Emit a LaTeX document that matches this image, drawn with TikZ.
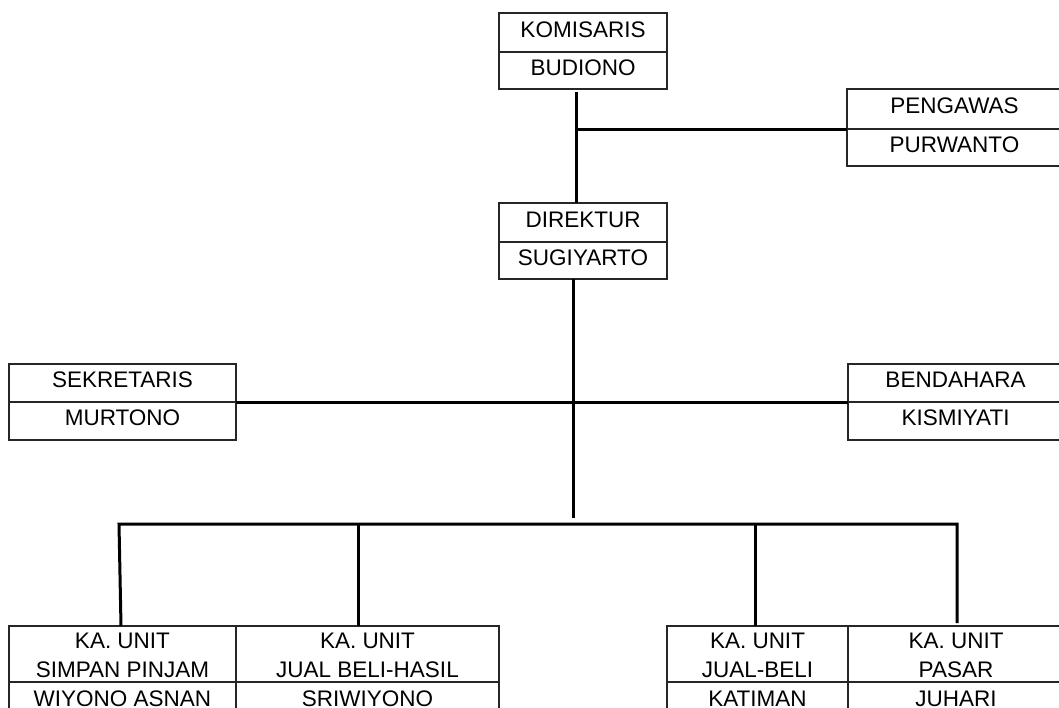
\documentclass[tikz,border=0pt]{standalone}
\usepackage{fontspec}
\setmainfont{Liberation Sans}
\begin{document}
\begin{tikzpicture}[x=1pt,y=-1pt,
  cell/.style={draw=black!85, line width=1.3pt, inner sep=0pt, outer sep=0pt},
  lbl/.style={anchor=base, inner sep=0pt, outer sep=0pt, font=\fontsize{22.5}{26}\selectfont},
  conn/.style={line width=3pt, black, line join=miter}]
\clip (0,0) rectangle (1059,707);
\fill[white] (0,0) rectangle (1059,707);
% KOMISARIS
\node[cell, minimum width=168, minimum height=39] (komT) at (583,32.5) {};
\node[cell, minimum width=168, minimum height=37] (komB) at (583,70.5) {};
\node[lbl] (komTt) at (583,37.5) {KOMISARIS};
\node[lbl] (komBt) at (583,75.5) {BUDIONO};
% PENGAWAS
\node[cell, minimum width=215, minimum height=40] (penT) at (954.5,109) {};
\node[cell, minimum width=215, minimum height=37] (penB) at (954.5,147.5) {};
\node[lbl] (penTt) at (954.5,113.5) {PENGAWAS};
\node[lbl] (penBt) at (954.5,152) {PURWANTO};
% DIREKTUR
\node[cell, minimum width=168, minimum height=39] (dirT) at (583,222.5) {};
\node[cell, minimum width=168, minimum height=37] (dirB) at (583,260.5) {};
\node[lbl] (dirTt) at (583,227) {DIREKTUR};
\node[lbl] (dirBt) at (583,265) {SUGIYARTO};
% SEKRETARIS
\node[cell, minimum width=227, minimum height=38] (sekT) at (122.5,383) {};
\node[cell, minimum width=227, minimum height=38] (sekB) at (122.5,421) {};
\node[lbl] (sekTt) at (122.5,387.5) {SEKRETARIS};
\node[lbl] (sekBt) at (122.5,425.5) {MURTONO};
% BENDAHARA
\node[cell, minimum width=215, minimum height=38] (benT) at (955.5,383) {};
\node[cell, minimum width=215, minimum height=38] (benB) at (955.5,421) {};
\node[lbl] (benTt) at (955.5,387.5) {BENDAHARA};
\node[lbl] (benBt) at (955.5,425.5) {KISMIYATI};
% Units
\node[cell, minimum width=227, minimum height=56] (u1T) at (122.5,654) {};
\node[cell, minimum width=227, minimum height=40] (u1B) at (122.5,702) {};
\node[lbl] (u1a) at (122.5,648) {KA. UNIT};
\node[lbl] (u1b) at (122.5,677) {SIMPAN PINJAM};
\node[lbl] (u1c) at (122.5,706) {WIYONO ASNAN};
\node[cell, minimum width=263, minimum height=56] (u2T) at (367.5,654) {};
\node[cell, minimum width=263, minimum height=40] (u2B) at (367.5,702) {};
\node[lbl] (u2a) at (367.5,648) {KA. UNIT};
\node[lbl] (u2b) at (367.5,677) {JUAL BELI-HASIL};
\node[lbl] (u2c) at (367.5,706) {SRIWIYONO};
\node[cell, minimum width=181, minimum height=56] (u3T) at (757.5,654) {};
\node[cell, minimum width=181, minimum height=40] (u3B) at (757.5,702) {};
\node[lbl] (u3a) at (757.5,648) {KA. UNIT};
\node[lbl] (u3b) at (757.5,677) {JUAL-BELI};
\node[lbl] (u3c) at (757.5,706) {KATIMAN};
\node[cell, minimum width=216, minimum height=56] (u4T) at (956,654) {};
\node[cell, minimum width=216, minimum height=40] (u4B) at (956,702) {};
\node[lbl] (u4a) at (956,648) {KA. UNIT};
\node[lbl] (u4b) at (956,677) {PASAR};
\node[lbl] (u4c) at (956,706) {JUHARI};
% connectors
\coordinate (kj) at (576,129);
\draw[conn] ([xshift=-7pt,yshift=-3pt]komB.south) -- ([xshift=-7pt]dirT.north);
\draw[conn] (kj) -- (penB.north west);
\coordinate (dj) at (573,518);
\draw[conn] ([xshift=-10pt]dirB.south) -- (dj);
\draw[conn] (sekB.north east) -- (benB.north west);
\coordinate (bl) at (119,524);
\coordinate (br) at (957,524);
\draw[conn] ([xshift=-1.5pt]u1T.north) -- (bl) -- (br) -- ([xshift=1pt,yshift=3pt]u4T.north);
\draw[conn] ([xshift=-9.5pt]u2T.north |- bl) -- ([xshift=-9.5pt]u2T.north);
\draw[conn] ([xshift=-2.5pt]u3T.north |- bl) -- ([xshift=-2.5pt]u3T.north);
\end{tikzpicture}
\end{document}
